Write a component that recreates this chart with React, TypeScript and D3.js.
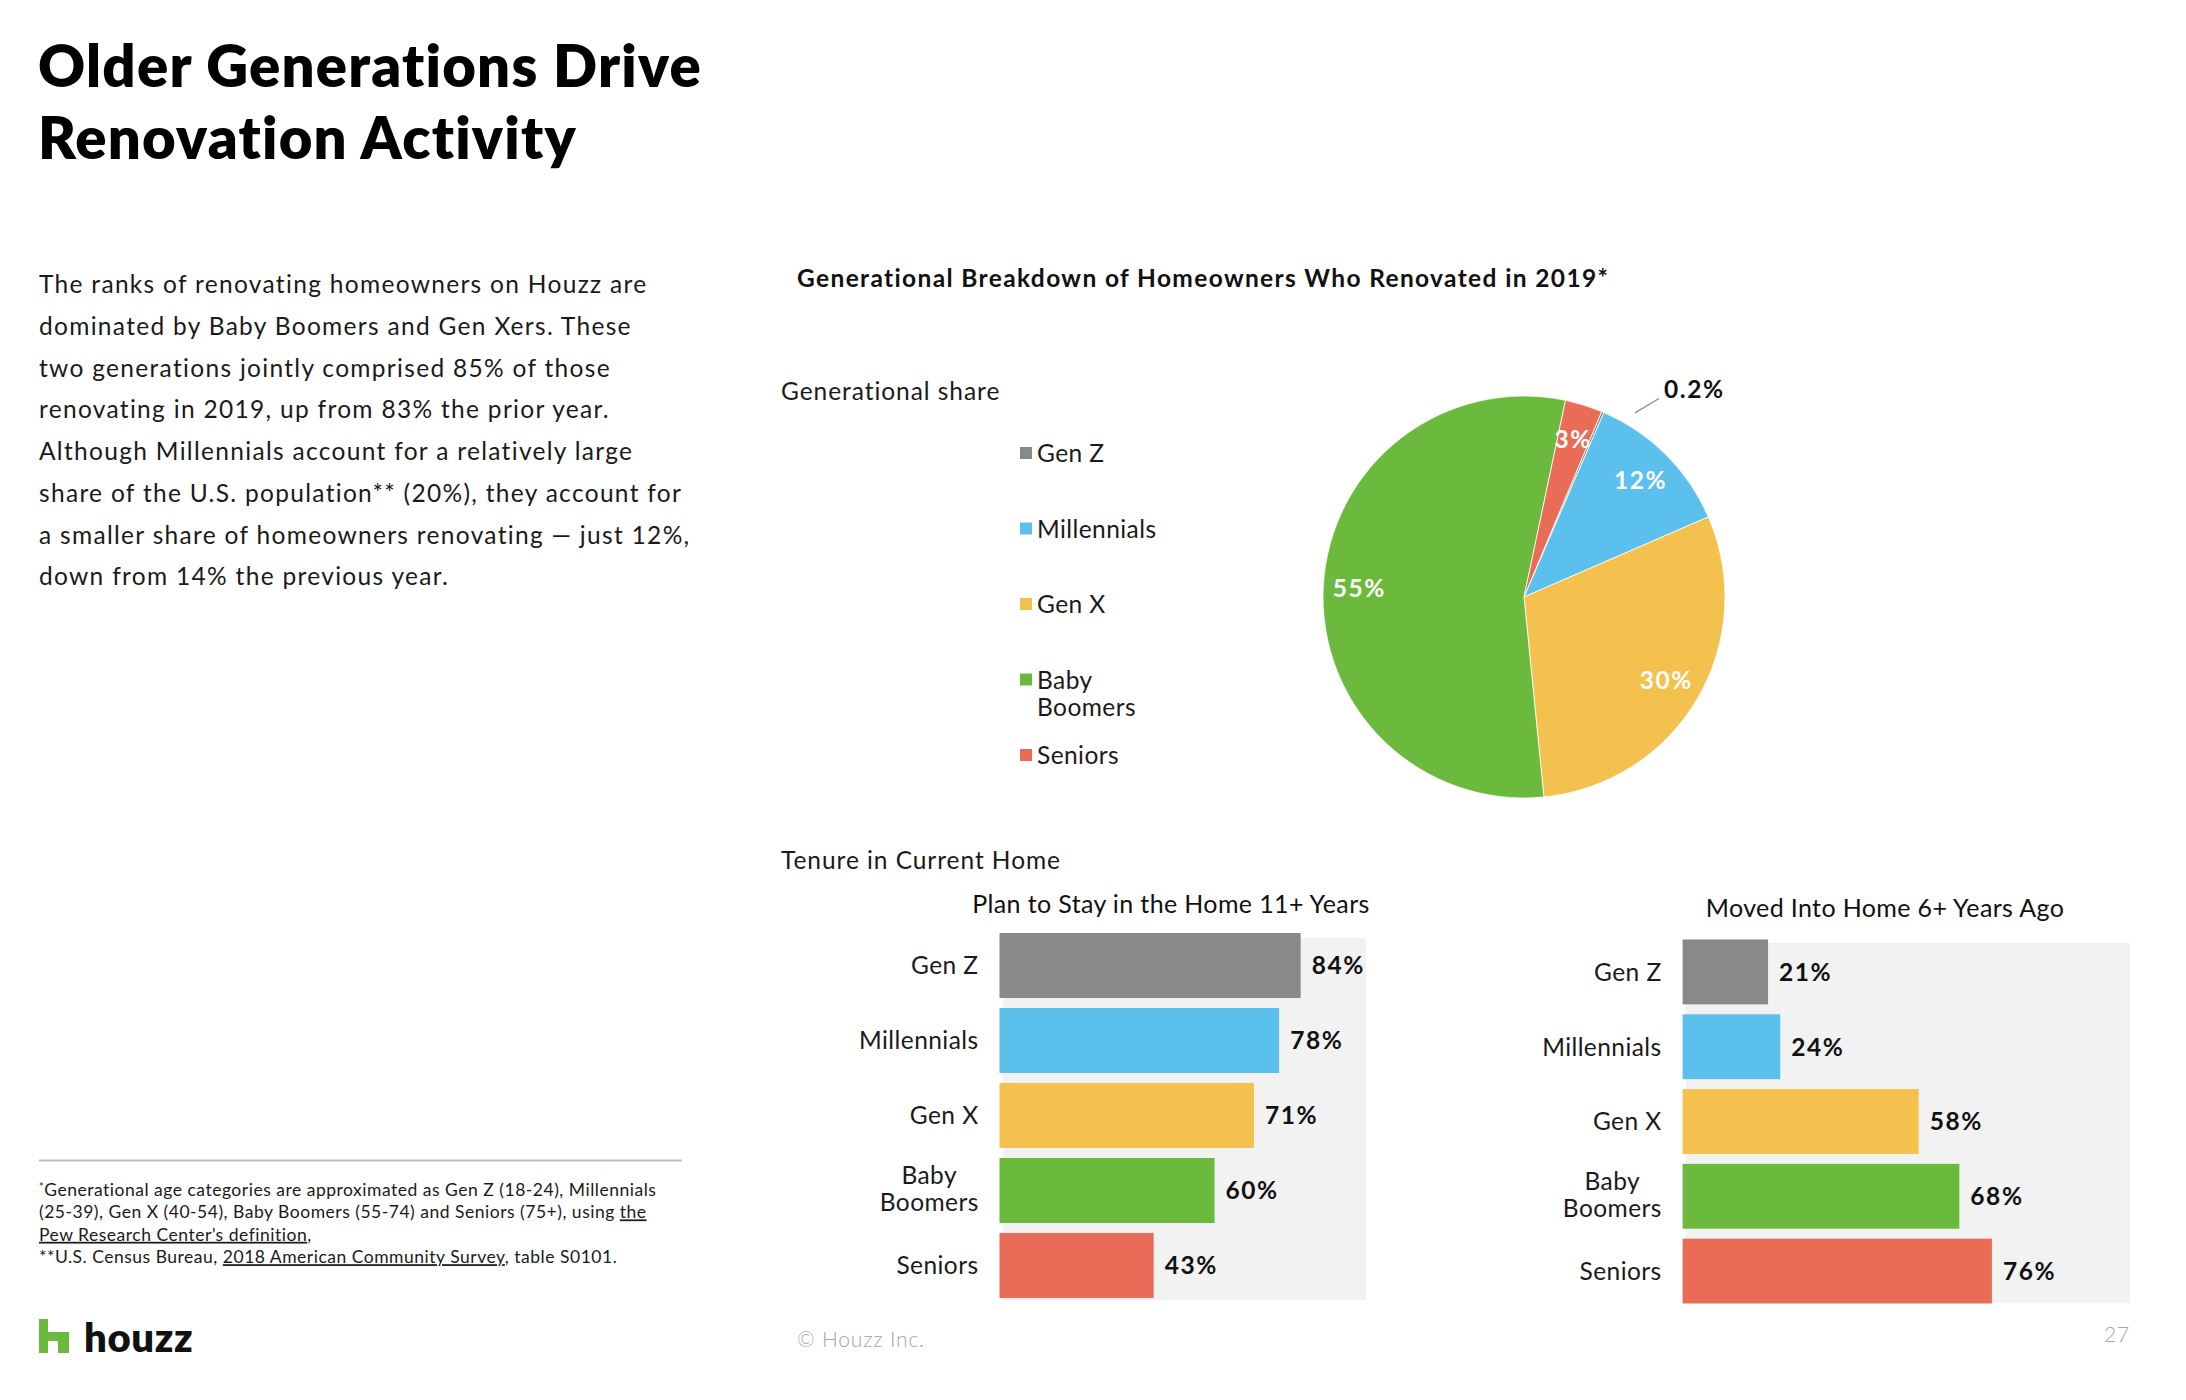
import React from "react";
import * as d3 from "d3";

// ---- data ----
const generations = ["Gen Z", "Millennials", "Gen X", "Baby Boomers", "Seniors"];
const generationColors = ["#898989", "#5bc0eb", "#f4c14e", "#6cba3d", "#e96d56"];
const categoryLines = [["Gen Z"], ["Millennials"], ["Gen X"], ["Baby", "Boomers"], ["Seniors"]];
const renovatorShare = [0.2, 12, 30, 55, 3];
const planToStay11Plus = [84, 78, 71, 60, 43];
const movedIn6PlusAgo = [21, 24, 58, 68, 76];

const titleLines = ["Older Generations Drive", "Renovation Activity"];
const introLines = [
  "The ranks of renovating homeowners on Houzz are",
  "dominated by Baby Boomers and Gen Xers. These",
  "two generations jointly comprised 85% of those",
  "renovating in 2019, up from 83% the prior year.",
  "Although Millennials account for a relatively large",
  "share of the U.S. population** (20%), they account for",
  "a smaller share of homeowners renovating \u2014 just 12%,",
  "down from 14% the previous year.",
];
type Seg = { t: string; u?: boolean; sup?: boolean };
const footnoteLines: Seg[][] = [
  [{ t: "*", sup: true }, { t: "Generational age categories are approximated as Gen Z (18-24), Millennials" }],
  [{ t: "(25-39), Gen X (40-54), Baby Boomers (55-74) and Seniors (75+), using " }, { t: "the", u: true }],
  [{ t: "Pew Research Center\u2019s definition", u: true }, { t: "," }],
  [{ t: "**U.S. Census Bureau, " }, { t: "2018 American Community Survey", u: true }, { t: ", table S0101." }],
];

const FONT = "Lato, 'Open Sans', 'Noto Sans', sans-serif";
const W = 2186;
const H = 1400;
const pct = (v: number) => `${v}%`;

let measureCtx: CanvasRenderingContext2D | null = null;
function textWidth(text: string, font: string) {
  if (!measureCtx) measureCtx = document.createElement("canvas").getContext("2d");
  if (!measureCtx) return text.length * 12;
  measureCtx.font = font;
  return measureCtx.measureText(text).width;
}
// letter spacing that makes `sample` set in `font` run to `target` pixels wide
function spacingFor(sample: string, font: string, target: number) {
  const w = textWidth(sample, font);
  return Math.max(-1, Math.min(3, (target - w) / Math.max(1, sample.length - 1)));
}

// text styles: weight, size and the letter spacing that sets the typeface's width
type Style = { weight: number; size: number; ls: number };
function makeStyle(weight: number, size: number, sample: string, target: number): Style {
  return { weight, size, ls: spacingFor(sample, `${weight} ${size}px ${FONT}`, target) };
}
function styleProps(s: Style) {
  return {
    fontFamily: FONT,
    fontWeight: s.weight,
    fontSize: s.size,
    letterSpacing: s.ls,
    style: { fontVariantLigatures: "none" as const },
  };
}

// ---- pie ----
const pieCx = 1524;
const pieCy = 597;
const pieR = 201;
const pieStart = (22.7 * Math.PI) / 180;

function SharePie({ label }: { label: Style }) {
  const pie = d3
    .pie<number>()
    .sort(null)
    .value((d) => d)
    .startAngle(pieStart)
    .endAngle(pieStart + 2 * Math.PI);
  const arcs = pie(renovatorShare);
  const arc = d3.arc<d3.PieArcDatum<number>>().innerRadius(0).outerRadius(pieR);
  const labelArc = d3.arc<d3.PieArcDatum<number>>().innerRadius(165).outerRadius(165);
  return (
    <g transform={`translate(${pieCx},${pieCy})`}>
      {arcs.map((a, i) => (
        <path key={i} d={arc(a) || ""} fill={generationColors[i]} stroke="#ffffff" strokeWidth={0.8} />
      ))}
      {arcs.map((a, i) => {
        if (a.data < 1) {
          // small slice: callout outside the pie
          const mid = (a.startAngle + a.endAngle) / 2 + 0.14;
          const p0 = [Math.sin(mid) * (pieR + 14), -Math.cos(mid) * (pieR + 14)];
          const mid2 = mid + 0.055;
          const p1 = [Math.sin(mid2) * (pieR + 39), -Math.cos(mid2) * (pieR + 39)];
          return (
            <g key={"l" + i}>
              <line x1={p0[0]} y1={p0[1]} x2={p1[0]} y2={p1[1]} stroke="#8c8c8c" strokeWidth={1.2} />
              <text x={p1[0] + 5} y={p1[1] - 1} {...styleProps(label)} fill="#111">
                {pct(a.data)}
              </text>
            </g>
          );
        }
        const [x, y] = labelArc.centroid(a);
        return (
          <text key={"l" + i} x={x} y={y} dy="0.36em" textAnchor="middle" {...styleProps(label)} fill="#ffffff">
            {pct(a.data)}
          </text>
        );
      })}
    </g>
  );
}

function Legend({ text }: { text: Style }) {
  const x = 1020;
  const top = 447;
  const step = 75.5;
  return (
    <g>
      {generations.map((g, i) => (
        <g key={g}>
          <rect x={x} y={top + i * step} width={12} height={12} fill={generationColors[i]} />
          {categoryLines[i].map((ln, j) => (
            <text key={j} x={x + 17} y={top + i * step + 15 + j * 27} {...styleProps(text)} fill="#1a1a1a">
              {ln}
            </text>
          ))}
        </g>
      ))}
    </g>
  );
}

// ---- bar panels ----
type BarLayout = {
  title: string;
  titleCx: number;
  titleBase: number;
  values: number[];
  left: number;
  top: number;
  bottom: number;
  width100: number;
  panel: { x0: number; y0: number; x1: number; y1: number };
};

const barLayouts: BarLayout[] = [
  {
    title: "Plan to Stay in the Home 11+ Years",
    titleCx: 1171,
    titleBase: 913,
    values: planToStay11Plus,
    left: 999.5,
    top: 933,
    bottom: 1298,
    width100: 358.5,
    panel: { x0: 1003, y0: 938, x1: 1366, y1: 1300 },
  },
  {
    title: "Moved Into Home 6+ Years Ago",
    titleCx: 1885,
    titleBase: 916.5,
    values: movedIn6PlusAgo,
    left: 1682.6,
    top: 939.5,
    bottom: 1303.5,
    width100: 407,
    panel: { x0: 1686, y0: 943, x1: 2130, y1: 1303 },
  },
];

type BarStyles = { title: Style; cat: Style; value: Style };

function BarPanel({ layout, styles }: { layout: BarLayout; styles: BarStyles }) {
  const y = d3.scaleBand<string>().domain(generations).range([layout.top, layout.bottom]).paddingInner(0.133).paddingOuter(0);
  const x = d3.scaleLinear().domain([0, 100]).range([layout.left, layout.left + layout.width100]);
  const catFont = `${styles.cat.weight} ${styles.cat.size}px ${FONT}`;
  const labelRight = layout.left - 21;
  return (
    <g>
      <text x={layout.titleCx} y={layout.titleBase} textAnchor="middle" {...styleProps(styles.title)} fill="#111">
        {layout.title}
      </text>
      <rect
        x={layout.panel.x0}
        y={layout.panel.y0}
        width={layout.panel.x1 - layout.panel.x0}
        height={layout.panel.y1 - layout.panel.y0}
        fill="#f2f2f2"
      />
      {generations.map((g, i) => {
        const by = y(g) as number;
        const bh = y.bandwidth();
        const cy = by + bh / 2;
        const v = layout.values[i];
        const lines = categoryLines[i];
        const widest = Math.max(...lines.map((l) => textWidth(l, catFont) + styles.cat.ls * (l.length - 1)));
        return (
          <g key={g}>
            <rect x={x(0)} y={by} width={x(v) - x(0)} height={bh} fill={generationColors[i]} />
            <text x={x(v) + 11} y={cy} dy="0.36em" {...styleProps(styles.value)} fill="#111">
              {pct(v)}
            </text>
            {lines.length === 1 ? (
              <text x={labelRight} y={cy} dy="0.36em" textAnchor="end" {...styleProps(styles.cat)} fill="#1a1a1a">
                {lines[0]}
              </text>
            ) : (
              lines.map((ln, j) => (
                <text
                  key={j}
                  x={labelRight - widest / 2}
                  y={cy - 6 + j * 27}
                  textAnchor="middle"
                  {...styleProps(styles.cat)}
                  fill="#1a1a1a"
                >
                  {ln}
                </text>
              ))
            )}
          </g>
        );
      })}
    </g>
  );
}

function HouzzLogo({ word }: { word: Style }) {
  // blocky "h" mark followed by the wordmark
  const x = 39;
  const y = 1319;
  const d = `M${x},${y} h9 v13 h21 v21 h-11 v-12 h-10 v12 h-9 Z`;
  return (
    <g>
      <path d={d} fill="#6cba3d" />
      <text x={84} y={1352} {...styleProps(word)} fill="#111">
        houzz
      </text>
    </g>
  );
}

export default function App() {
  const title = makeStyle(800, 58, titleLines[0], 665);
  const intro = makeStyle(400, 24.5, introLines[0], 608);
  const chartTitle = makeStyle(700, 24.5, "Generational Breakdown of Homeowners Who Renovated in 2019*", 812);
  const section = makeStyle(400, 24.5, "Tenure in Current Home", 279);
  const cat = makeStyle(400, 24.5, "Millennials", 119);
  const value = makeStyle(700, 24.5, "84%", 51.6);
  const subTitle = makeStyle(400, 25, "Plan to Stay in the Home 11+ Years", 398.7);
  const foot = makeStyle(400, 17.5, "Generational age categories are approximated as Gen Z (18-24), Millennials", 612);
  const footer = makeStyle(300, 21, "\u00a9 Houzz Inc.", 127);
  const word = makeStyle(800, 40, "houzz", 108.7);

  return (
    <svg width={W} height={H} viewBox={`0 0 ${W} ${H}`} style={{ position: "absolute", left: 0, top: 0, background: "#fff" }}>
      <rect width={W} height={H} fill="#ffffff" />
      {titleLines.map((t, i) => (
        <text key={t} x={38} y={87 + i * 72} {...styleProps(title)} fill="#000">
          {t}
        </text>
      ))}
      {introLines.map((t, i) => (
        <text key={i} x={39} y={293 + i * 41.75} {...styleProps(intro)} fill="#1a1a1a">
          {t}
        </text>
      ))}

      <text x={797} y={287} {...styleProps(chartTitle)} fill="#111">
        Generational Breakdown of Homeowners Who Renovated in 2019*
      </text>
      <text x={781} y={400} {...styleProps(section)} fill="#1a1a1a">
        Generational share
      </text>
      <Legend text={cat} />
      <SharePie label={value} />

      <text x={781} y={869} {...styleProps(section)} fill="#1a1a1a">
        Tenure in Current Home
      </text>
      {barLayouts.map((l) => (
        <BarPanel key={l.title} layout={l} styles={{ title: subTitle, cat, value }} />
      ))}

      <line x1={39} x2={682} y1={1160.5} y2={1160.5} stroke="#c0c0c0" strokeWidth={2} />
      {footnoteLines.map((segs, i) => (
        <text key={i} x={39} y={1196 + i * 22.4} {...styleProps(foot)} fill="#1a1a1a">
          {segs.map((s, j) => (
            <tspan
              key={j}
              textDecoration={s.u ? "underline" : undefined}
              fontSize={s.sup ? 11 : undefined}
              dy={s.sup ? -5 : j > 0 && segs[j - 1].sup ? 5 : undefined}
            >
              {s.t}
            </tspan>
          ))}
        </text>
      ))}

      <HouzzLogo word={word} />
      <text x={797} y={1347} {...styleProps(footer)} fill="#a6a6a6">
        © Houzz Inc.
      </text>
      <text x={2130} y={1342} textAnchor="end" {...styleProps(footer)} fill="#a6a6a6">
        27
      </text>
    </svg>
  );
}
